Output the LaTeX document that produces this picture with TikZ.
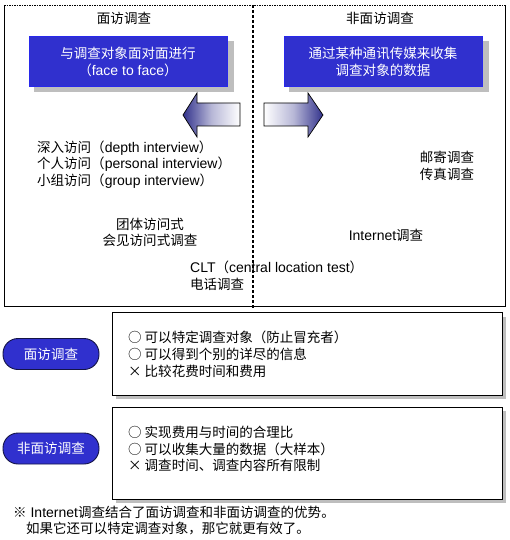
\documentclass[tikz,border=0pt]{standalone}
\usepackage{fontspec}
\setmainfont{Liberation Sans}
\newfontfamily\cjk[Scale=0.965]{Noto Sans CJK SC}
\newcommand\zh[1]{{\cjk #1}}
\definecolor{boxblue}{RGB}{48,48,206}
\definecolor{boxedge}{RGB}{40,40,235}
\definecolor{arrowblue}{RGB}{50,50,140}
\definecolor{pilledge}{RGB}{20,20,70}
\definecolor{shadowgray}{RGB}{190,190,190}
\tikzset{
  txt/.style={inner sep=0pt, font=\fontsize{14}{16}\selectfont},
  wtxt/.style={txt, text=white, align=center},
  bluebox/.style={draw=boxedge, line width=0.8pt, fill=boxblue, minimum width=198pt, minimum height=50pt, inner sep=0pt},
  pill/.style={draw=pilledge, line width=0.9pt, fill=boxblue, rounded corners=15pt, minimum width=96pt, minimum height=31pt, inner sep=0pt, text=white, font=\fontsize{14}{16}\selectfont},
  infobox/.style={draw=black, line width=0.9pt, fill=white, minimum width=390pt, minimum height=83pt, inner sep=0pt},
  shadow/.style={fill=shadowgray},
  arrowline/.style={draw=black, line width=0.7pt}
}
\begin{document}
\begin{tikzpicture}[x=1pt,y=-1pt]
\useasboundingbox (0,0) rectangle (510,540);
% outer frame
\coordinate (tl) at (4,5);
\coordinate (tr) at (505,5);
\coordinate (bl) at (4,306);
\coordinate (br) at (505,306);
\draw[line width=0.9pt] (tl) -- (bl) -- (br) -- (tr);
\draw[line width=0.9pt, dash pattern=on 1.5pt off 1pt] (tl) -- (tr);
\coordinate (dtop) at (253,5);
\coordinate (dbot) at (253,308);
\draw[line width=1.3pt, dash pattern=on 3pt off 2pt] (dtop) -- (dbot);
% titles
\node[txt] (t1) at (124,18) {\zh{面访调查}};
\node[txt] (t2) at (380,18) {\zh{非面访调查}};
% blue boxes with shadows
\fill[shadow] (34,41) rectangle (234,92);
\node[bluebox] (b1) at (128,61) {};
\node[wtxt] (b1a) at (128,53) {\zh{与调查对象面对面进行}};
\node[wtxt] (b1b) at (128,70) {\zh{（}face to face\zh{）}};
\fill[shadow] (289,41) rectangle (489,92);
\node[bluebox] (b2) at (383,61) {};
\node[wtxt] (b2a) at (383,53) {\zh{通过某种通讯传媒来收集}};
\node[wtxt] (b2b) at (383,70) {\zh{调查对象的数据}};
% arrows
\shade[left color=arrowblue, right color=white, middle color=arrowblue!35!white, arrowline]
  (183,115) -- (197,93) -- (197,103) -- (240,103) -- (240,126) -- (197,126) -- (197,137) -- cycle;
\shade[left color=white, right color=arrowblue, middle color=arrowblue!35!white, arrowline]
  (264,103) -- (308,103) -- (308,93) -- (323,115) -- (308,137) -- (308,126) -- (264,126) -- cycle;
% left column texts
\node[txt, anchor=west] (l1) at (37,148) {\zh{深入访问（}depth interview\zh{）}};
\node[txt, anchor=west] (l2) at (37,164.5) {\zh{个人访问（}personal interview\zh{）}};
\node[txt, anchor=west] (l3) at (37,181) {\zh{小组访问（}group interview\zh{）}};
\node[txt] (g1) at (150,224) {\zh{团体访问式}};
\node[txt] (g2) at (150,240.5) {\zh{会见访问式调查}};
\node[txt, anchor=west] (c1) at (190,267) {CLT\zh{（}central location test\zh{）}};
\node[txt, anchor=west] (c2) at (190,284) {\zh{电话调查}};
% right column texts
\node[txt] (r1) at (447,157) {\zh{邮寄调查}};
\node[txt] (r2) at (447,174) {\zh{传真调查}};
\node[txt] (r3) at (386,235) {Internet\zh{调查}};
% bottom section
\node[pill] (p1) at (51,354) {\zh{面访调查}};
\node[pill] (p2) at (51,448.5) {\zh{非面访调查}};
\fill[shadow] (116,317) rectangle (506,399);
\node[infobox] (i1) at (307,353.5) {};
\node[txt, anchor=west] (i1a) at (128,337) {\zh{○\ 可以特定调查对象（防止冒充者）}};
\node[txt, anchor=west] (i1b) at (128,354) {\zh{○\ 可以得到个别的详尽的信息}};
\node[txt, anchor=west] (i1c) at (128,371) {\zh{×\ 比较花费时间和费用}};
\fill[shadow] (116,411) rectangle (506,503);
\node[infobox, minimum height=92pt] (i2) at (307,453) {};
\node[txt, anchor=west] (i2a) at (128,432) {\zh{○\ 实现费用与时间的合理比}};
\node[txt, anchor=west] (i2b) at (128,449) {\zh{○\ 可以收集大量的数据（大样本）}};
\node[txt, anchor=west] (i2c) at (128,465.5) {\zh{×\ 调查时间、调查内容所有限制}};
% footnote
\node[txt, anchor=west] (f1) at (13,512) {\zh{※}\ Internet\zh{调查结合了面访调查和非面访调查的优势。}};
\node[txt, anchor=west] (f2) at (26,528) {\zh{如果它还可以特定调查对象，那它就更有效了。}};
\end{tikzpicture}
\end{document}
